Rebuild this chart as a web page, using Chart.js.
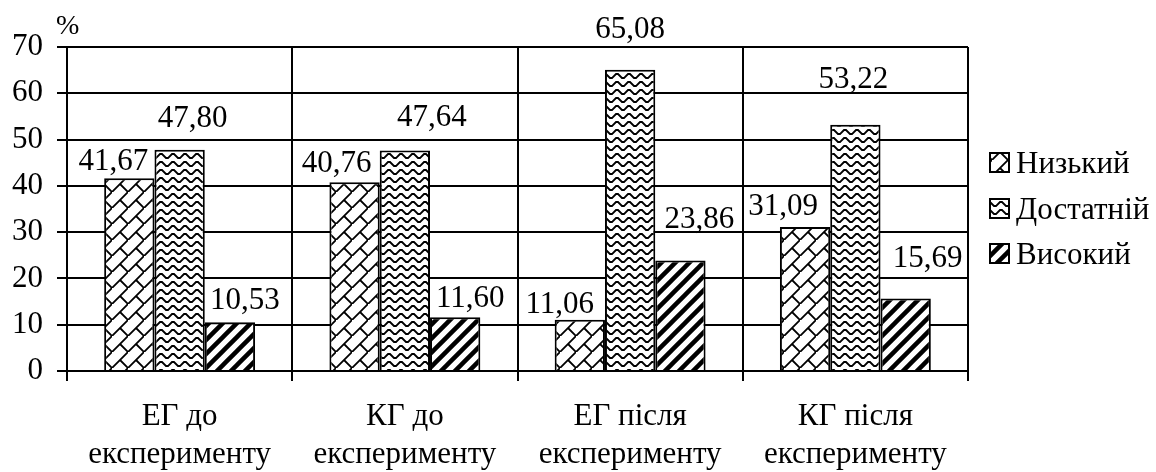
<!DOCTYPE html>
<html>
<head>
<meta charset="utf-8">
<script src="https://cdn.jsdelivr.net/npm/chart.js@4"></script>
<style>
  body { margin: 0; background: #fff; }
  #wrap { width: 1156px; height: 472px; }
</style>
</head>
<body>
<div id="wrap"><canvas id="chart" width="1156" height="472"></canvas></div>
<script>
// data
const categories = [
    ["ЕГ до", "експерименту"],
    ["КГ до", "експерименту"],
    ["ЕГ після", "експерименту"],
    ["КГ після", "експерименту"]
];
const seriesNames = ["Низький", "Достатній", "Високий"];
const lowValues = [41.67, 40.76, 11.06, 31.09];
const midValues = [47.80, 47.64, 65.08, 53.22];
const highValues = [10.53, 11.60, 23.86, 15.69];
const yMin = 0;
const yMax = 70;
const yStep = 10;
const yUnit = "%";

const FONT = '"Liberation Serif", "Times New Roman", serif';

// hatch patterns like the old Excel fills
const makePattern = (kind) => {
    const c = document.createElement("canvas");
    const g = c.getContext("2d");
    if (kind === "brick") {
        c.width = 16; c.height = 16;
        g.fillStyle = "#fff"; g.fillRect(0, 0, 16, 16);
        g.strokeStyle = "#000"; g.lineWidth = 1.8;
        g.beginPath();
        g.moveTo(-2, 18); g.lineTo(18, -2);
        g.moveTo(8, 8); g.lineTo(16, 16);
        g.stroke();
    } else if (kind === "wave") {
        c.width = 12; c.height = 8;
        g.fillStyle = "#fff"; g.fillRect(0, 0, 12, 8);
        g.strokeStyle = "#000"; g.lineWidth = 1.8;
        g.beginPath();
        g.moveTo(-2, 6); g.lineTo(0, 6); g.lineTo(4, 2); g.lineTo(6, 2);
        g.lineTo(10, 6); g.lineTo(14, 6);
        g.stroke();
    } else {
        c.width = 14; c.height = 14;
        g.fillStyle = "#fff"; g.fillRect(0, 0, 14, 14);
        g.strokeStyle = "#000"; g.lineWidth = 4.5;
        g.beginPath();
        g.moveTo(-7, 7); g.lineTo(7, -7);
        g.moveTo(-1, 15); g.lineTo(15, -1);
        g.moveTo(7, 21); g.lineTo(21, 7);
        g.stroke();
    }
    return g.createPattern(c, "repeat");
};

const fills = [makePattern("brick"), makePattern("wave"), makePattern("stripe")];

// value labels sit where the original put them: [dx from bar centre, height above bar top]
const labelNudge = [
    [[-16, 18], [-18, 20], [-20, 17], [-22, 22]],
    [[13, 33], [27, 34], [0, 42], [-2, 47]],
    [[15, 23], [15, 20], [19, 43], [22, 41]]
];

const fmt = (v) => v.toFixed(2).replace(".", ",");

const extrasPlugin = {
    id: "extras",
    afterDatasetsDraw(chart) {
        const ctx = chart.ctx;
        ctx.save();
        ctx.fillStyle = "#000";
        ctx.font = "31px " + FONT;
        ctx.textAlign = "center";
        ctx.textBaseline = "alphabetic";
        chart.data.datasets.forEach((ds, i) => {
            chart.getDatasetMeta(i).data.forEach((bar, j) => {
                const n = labelNudge[i][j];
                ctx.fillText(fmt(ds.data[j]), bar.x + n[0], bar.y - n[1] + 10);
            });
        });

        // unit above the y axis
        ctx.font = "28px " + FONT;
        ctx.textAlign = "left";
        ctx.fillText(yUnit, 56, 34);

        // legend
        const items = chart.data.datasets;
        const legendY = [162, 208, 253];
        items.forEach((ds, i) => {
            const y = legendY[i];
            ctx.fillStyle = ds.backgroundColor;
            ctx.fillRect(990, y - 9, 19, 19);
            ctx.strokeStyle = "#000";
            ctx.lineWidth = 2;
            ctx.strokeRect(990, y - 9, 19, 19);
            ctx.fillStyle = "#000";
            ctx.font = "31px " + FONT;
            ctx.fillText(ds.label, 1016, y + 11);
        });
        ctx.restore();
    }
};

const seriesValues = [lowValues, midValues, highValues];

new Chart(document.getElementById("chart"), {
    type: "bar",
    data: {
        labels: categories,
        datasets: seriesNames.map((name, i) => ({
            label: name,
            data: seriesValues[i],
            backgroundColor: fills[i],
            borderColor: "#000",
            borderWidth: 2,
            categoryPercentage: 0.67,
            barPercentage: 1
        }))
    },
    options: {
        responsive: false,
        animation: false,
        layout: { padding: { left: 0, top: 47, right: 188, bottom: 0 } },
        plugins: {
            legend: { display: false },
            tooltip: { enabled: false }
        },
        scales: {
            x: {
                afterFit: (scale) => { scale.height = 101; },
                grid: {
                    offset: true,
                    color: "#000",
                    lineWidth: 2,
                    tickLength: 10
                },
                border: { color: "#000", width: 2 },
                ticks: {
                    color: "#000",
                    font: { family: FONT, size: 31, lineHeight: 1.25 },
                    padding: 16,
                    maxRotation: 0
                }
            },
            y: {
                min: yMin,
                max: yMax,
                afterFit: (scale) => { scale.width = 67; },
                grid: { color: "#000", lineWidth: 2, tickLength: 10 },
                border: { color: "#000", width: 2 },
                ticks: {
                    stepSize: yStep,
                    color: "#000",
                    font: { family: FONT, size: 31 },
                    padding: 14
                }
            }
        }
    },
    plugins: [extrasPlugin]
});
</script>
</body>
</html>
